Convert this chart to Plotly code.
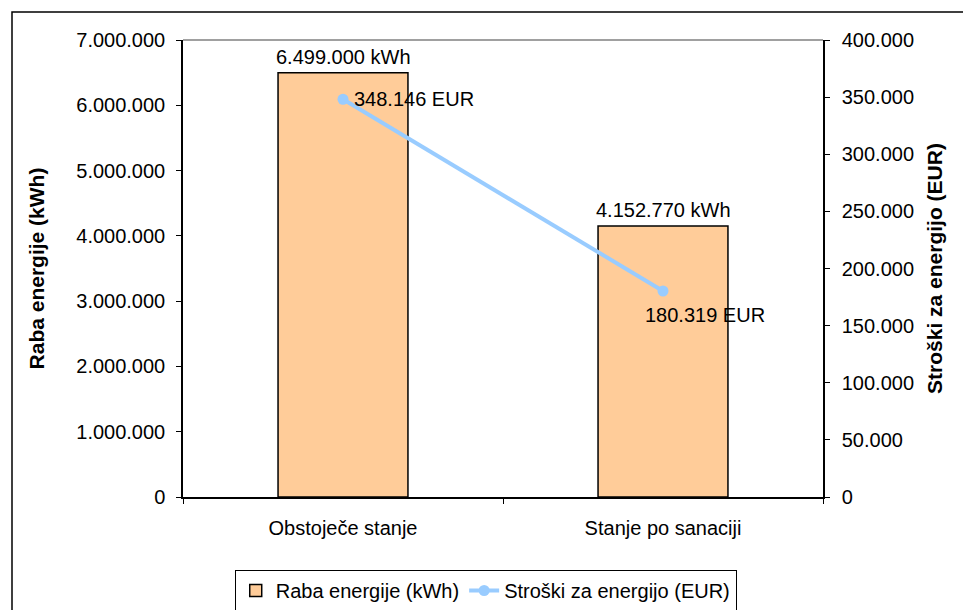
import plotly.graph_objects as go

categories = ["Obstoječe stanje", "Stanje po sanaciji"]
energy_kwh = [6499000, 4152770]
cost_eur = [348146, 180319]
energy_name = "Raba energije (kWh)"
cost_name = "Stroški za energijo (EUR)"

FONT = "Liberation Sans, Arial, sans-serif"


def fmt(v):
    return f"{v:,}".replace(",", ".")


fig = go.Figure()
fig.add_trace(go.Bar(
    x=categories, y=energy_kwh, name=energy_name,
    marker=dict(color="#FFCC99", line=dict(color="black", width=1.5)),
    width=0.406, yaxis="y",
))
fig.add_trace(go.Scatter(
    x=categories, y=cost_eur, name=cost_name, mode="lines+markers",
    line=dict(color="#99CCFF", width=4),
    marker=dict(color="#99CCFF", size=11),
    yaxis="y2",
))

annotations = []
for c, v in zip(categories, energy_kwh):
    annotations.append(dict(x=c, y=v, xref="x", yref="y", text=fmt(v) + " kWh",
                            showarrow=False, yanchor="bottom", yshift=3,
                            font=dict(family=FONT, size=20, color="black")))
cost_offsets = [(9, 0), (-20, -24)]
for c, v, (xs, ys) in zip(categories, cost_eur, cost_offsets):
    annotations.append(dict(x=c, y=v, xref="x", yref="y2", text=fmt(v) + " EUR",
                            showarrow=False, xanchor="left", yanchor="middle",
                            xshift=xs, yshift=ys,
                            font=dict(family=FONT, size=20, color="black")))

axis_font = dict(family=FONT, size=20, color="black")
title_font = dict(family=FONT, size=21, color="black", weight="bold")

fig.update_layout(
    width=963, height=610,
    margin=dict(l=183, r=140, t=40, b=113, pad=0),
    paper_bgcolor="white", plot_bgcolor="white",
    separators=",.",
    font=axis_font,
    showlegend=True,
    legend=dict(orientation="h", x=0.473, xanchor="center",
                yref="container", y=(610 - 570) / 610, yanchor="top",
                bgcolor="white", bordercolor="black", borderwidth=1,
                font=axis_font, traceorder="normal"),
    xaxis=dict(type="category", showline=True, linecolor="black", linewidth=1.5,
               ticks="outside", ticklen=5, tickcolor="black", tickson="boundaries",
               showgrid=False, tickfont=axis_font, ticklabelstandoff=12),
    xaxis3=dict(overlaying="x", anchor="y", range=[0, 1], tickvals=[0.5],
                ticks="inside", ticklen=5, tickcolor="black", showticklabels=False,
                showline=False, showgrid=False, zeroline=False, fixedrange=True),
    yaxis=dict(range=[0, 7000000], dtick=1000000, tickformat=",d",
               showline=True, linecolor="black", linewidth=1.5,
               ticks="outside", ticklen=5, tickcolor="black",
               showgrid=False, zeroline=False, tickfont=axis_font,
               ticklabelstandoff=7,
               title=dict(text=energy_name, font=title_font, standoff=26)),
    yaxis2=dict(range=[0, 400000], dtick=50000, tickformat=",d", overlaying="y",
                side="right", showline=True, linecolor="black", linewidth=1.5,
                ticks="outside", ticklen=5, tickcolor="black",
                showgrid=False, zeroline=False, tickfont=axis_font,
                ticklabelstandoff=8,
                title=dict(text=cost_name, font=title_font, standoff=14)),
    yaxis3=dict(overlaying="y", side="left", anchor="x", range=[0, 7000000],
                dtick=1000000, ticks="inside", ticklen=5, tickcolor="black",
                showticklabels=False, showline=False, showgrid=False, zeroline=False),
    yaxis4=dict(overlaying="y", side="right", anchor="x", range=[0, 400000],
                dtick=50000, ticks="inside", ticklen=5, tickcolor="black",
                showticklabels=False, showline=False, showgrid=False, zeroline=False),
    annotations=annotations,
    shapes=[
        dict(type="line", xref="paper", yref="paper", x0=0, x1=1, y0=1, y1=1,
             line=dict(color="#808080", width=1.5), layer="above"),
        dict(type="rect", xref="paper", yref="paper",
             x0=(12 - 183) / 640, x1=2.0, y0=-1.0, y1=(497 - 12) / 457,
             line=dict(color="black", width=1.5), layer="below"),
    ],
)

fig.write_html("out.html", config={"displayModeBar": False},
               post_script="document.body.style.margin='0';")
